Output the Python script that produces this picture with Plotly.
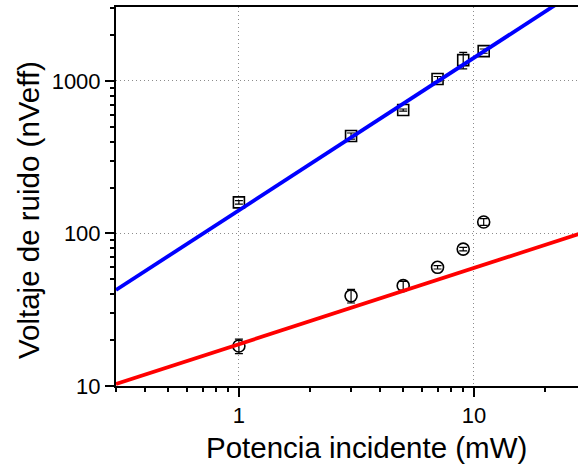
import numpy as np
import plotly.graph_objects as go

# Data
power_mw = [1, 3, 5, 7, 9, 11]
noise_sq = [160, 436, 645, 1030, 1370, 1570]
err_sq = [4, 20, 10, 40, 170, 50]
noise_circ = [18.3, 39, 45.5, 60, 79, 119]
err_circ = [2.0, 4.0, 3.0, 1.5, 2.0, 6.0]

# Fit lines y = a * x^b
blue_a, blue_b = 142.0, 1.0
red_a, red_b = 18.8, 0.5
fit_x = [0.3, 30]

x_major = [1, 10]
x_minor = [0.3, 0.4, 0.5, 0.6, 0.7, 0.8, 0.9, 2, 3, 4, 5, 6, 7, 8, 9, 20]
y_major = [10, 100, 1000]
y_minor = [20, 30, 40, 50, 60, 70, 80, 90, 200, 300, 400, 500, 600, 700, 800, 900, 2000, 3000]

x_title = "Potencia incidente (mW)"
y_title = "Voltaje de ruido (nVeff)"

x_range = [np.log10(0.3), 1.4426]
y_range = [1, 3.485]

fig = go.Figure()

fig.add_trace(go.Scatter(
    x=power_mw, y=noise_sq, mode="markers",
    marker=dict(symbol="square-open", size=11, color="black", line=dict(width=1.6)),
    error_y=dict(type="data", array=err_sq, color="black", thickness=1.2, width=4),
    showlegend=False))
fig.add_trace(go.Scatter(
    x=power_mw, y=noise_circ, mode="markers",
    marker=dict(symbol="circle-open", size=12, color="black", line=dict(width=1.6)),
    error_y=dict(type="data", array=err_circ, color="black", thickness=1.2, width=4),
    showlegend=False))

fx = np.array(fit_x, dtype=float)
fig.add_trace(go.Scatter(x=fx, y=blue_a * fx ** blue_b, mode="lines",
                         line=dict(color="#0000FF", width=3.8), showlegend=False))
fig.add_trace(go.Scatter(x=fx, y=red_a * fx ** red_b, mode="lines",
                         line=dict(color="#FF0000", width=3.8), showlegend=False))

# invisible trace to carry the minor-tick overlay axes
fig.add_trace(go.Scatter(x=[1], y=[100], xaxis="x2", yaxis="y2", mode="markers",
                         marker=dict(opacity=0), hoverinfo="skip", showlegend=False))

font = "Liberation Sans, Arial, sans-serif"
fig.update_layout(
    width=578, height=467,
    margin=dict(l=116, r=0, t=7, b=81),
    plot_bgcolor="white",
    font=dict(family=font, color="black", size=22),
    xaxis=dict(
        type="log", range=x_range,
        tickmode="array", tickvals=x_major, ticktext=[str(v) for v in x_major],
        ticks="outside", ticklen=9, tickwidth=2, tickcolor="#000000",
        showline=True, linecolor="black", linewidth=2, mirror=True,
        showgrid=True, gridcolor="#8c8c8c", griddash="1px,3px", gridwidth=1),
    yaxis=dict(
        type="log", range=y_range,
        tickmode="array", tickvals=y_major, ticktext=[str(v) for v in y_major],
        ticks="outside", ticklen=9, tickwidth=2, tickcolor="#000000",
        showline=True, linecolor="black", linewidth=2,
        showgrid=True, gridcolor="#8c8c8c", griddash="1px,3px", gridwidth=1),
    xaxis2=dict(
        type="log", range=x_range, overlaying="x", anchor="y2", side="bottom",
        tickmode="array", tickvals=x_minor, showticklabels=False,
        ticks="outside", ticklen=5, tickwidth=1.5, tickcolor="#000000",
        showgrid=False),
    yaxis2=dict(
        type="log", range=y_range, overlaying="y", anchor="x2", side="left",
        tickmode="array", tickvals=y_minor, showticklabels=False,
        ticks="outside", ticklen=5, tickwidth=1.5, tickcolor="#000000",
        showgrid=False),
)

fig.add_annotation(text=x_title, xref="paper", yref="paper",
                   x=(366 - 116) / 462, y=(386 - 447) / 379,
                   xanchor="center", yanchor="middle", showarrow=False,
                   font=dict(size=29.5))
fig.add_annotation(text=y_title, xref="paper", yref="paper",
                   x=(28 - 116) / 462, y=(386 - 210) / 379,
                   xanchor="center", yanchor="middle", showarrow=False,
                   textangle=-90, font=dict(size=29.5))

fig.write_html("out.html")
